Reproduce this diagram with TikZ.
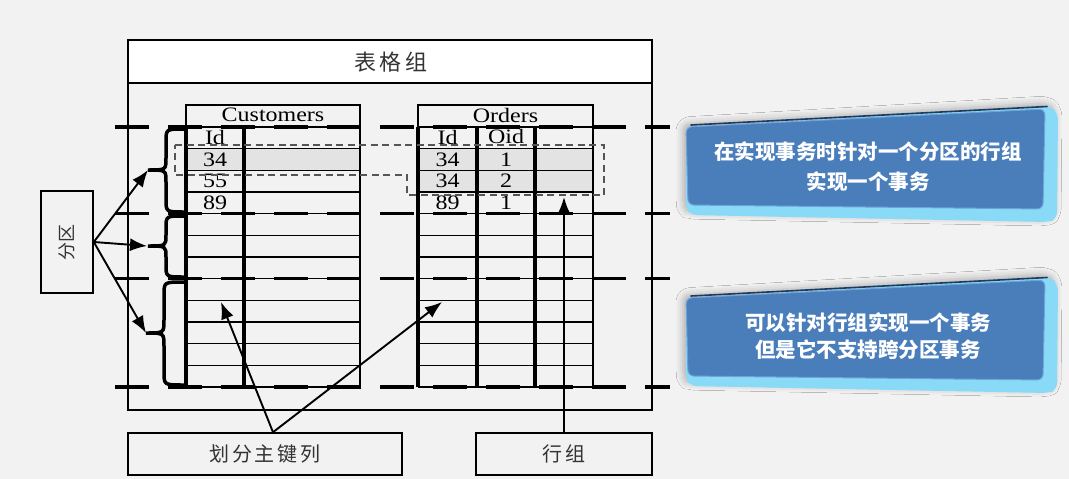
\documentclass[tikz,border=0pt]{standalone}
\usepackage{fontspec}
\setmainfont{Liberation Serif}
\newfontfamily\cjk{Noto Sans CJK SC}
\newfontfamily\cjksp{Noto Sans CJK SC}[LetterSpace=14]
\newfontfamily\tabfont{Liberation Serif}[FakeStretch=1.17]
\usetikzlibrary{arrows.meta,shadows.blur}
\definecolor{bg}{HTML}{F2F2F2}
\definecolor{rowgray}{HTML}{E3E3E3}
\definecolor{txtgray}{HTML}{333333}
\definecolor{dashgray}{HTML}{555555}
\definecolor{faceblue}{HTML}{4A7EBB}
\definecolor{faceline}{HTML}{6FA3D8}
\definecolor{edgecyan}{HTML}{88DAF7}
\definecolor{edgedark}{HTML}{1E3A5F}
\begin{document}
\begin{tikzpicture}[x=1pt,y=-1pt,
  thinl/.style={line width=1.2pt, black},
  thickcol/.style={line width=4pt, black},
  pdash/.style={line width=3.5pt, black, dash pattern=on 34pt off 19pt},
  gdash/.style={line width=1.3pt, draw=dashgray, dash pattern=on 7pt off 4.5pt},
  arr/.style={-{Latex[length=17pt,width=13pt]}, line width=1.9pt},
  lbox/.style={draw, line width=1.6pt, fill=bg, inner sep=0pt, text=txtgray},
  cell/.style={font=\tabfont\fontsize{20.5}{20.5}\selectfont, inner sep=0pt},
  brc/.style={line width=3.5pt, line cap=round},
  btext/.style={font=\cjk\bfseries\fontsize{20.5}{30}\selectfont, text=white, align=center}
]
\useasboundingbox (0,0) rectangle (1069,479);
\fill[bg] (0,0) rectangle (1069,479);

% outer table-group box
\fill[white] (128,40) rectangle (652,83);
\draw[thinl] (128,40) rectangle (652,410);
\draw[thinl] (128,83) -- (652,83);
\node[font=\cjksp\fontsize{22}{22}\selectfont, text=txtgray] (title) at (391,62) {表格组};

% gray highlighted rows
\fill[rowgray] (186,{127+260/12}) rectangle (360,{127+2*260/12});
\fill[rowgray] (418,{127+260/12}) rectangle (593,{127+3*260/12});

% Customers table
\draw[thinl] (186,105) rectangle (360,127);
\draw[thinl] (360,127) -- (360,387);
\foreach \k in {1,...,12} {
  \draw[thinl] (186,{127+\k*260/12}) -- (360,{127+\k*260/12});
  \draw[thinl] (418,{127+\k*260/12}) -- (593,{127+\k*260/12});
}
\draw[thickcol] (186,127) -- (186,387);
\draw[thickcol] (244,127) -- (244,387);
\node[cell] (cust) at (273,115) {Customers};

% Orders table
\draw[thinl] (418,105) rectangle (593,127);
\draw[thinl] (593,127) -- (593,387);
\draw[thickcol] (418,127) -- (418,387);
\draw[thickcol] (477,127) -- (477,387);
\draw[thickcol] (535,127) -- (535,387);
\node[cell] (ord) at (505.5,115) {Orders};

% cell texts
\node[cell] (cid) at (215,137) {Id};
\node[cell] (c1) at (215,159.5) {34};
\node[cell] (c2) at (215,181.2) {55};
\node[cell] (c3) at (215,202.8) {89};
\node[cell] (oid) at (447.5,137) {Id};
\node[cell] (ooid) at (506,136) {Oid};
\node[cell] (o1) at (447.5,159.5) {34};
\node[cell] (o1b) at (506,159.5) {1};
\node[cell] (o2) at (447.5,181.2) {34};
\node[cell] (o2b) at (506,181.2) {2};
\node[cell] (o3) at (447.5,202.8) {89};
\node[cell] (o3b) at (506,202.8) {1};

% dashed row-group outline
\draw[gdash] (175,145) -- (604,145) -- (604,195) -- (407,195) -- (407,175) -- (175,175) -- cycle;

% partition dashed lines
\foreach \yy in {127, 213.67, 278.67, 387} {
  \draw[pdash] (115,\yy) -- (670,\yy);
}

% braces
\draw[brc] (184,129) .. controls (166,129) .. (166,142) -- (166,158) .. controls (166,170) .. (148,170)
  .. controls (166,170) .. (166,182) -- (166,199) .. controls (166,212) .. (184,212);
\draw[brc] (184,216) .. controls (166,216) .. (166,228) -- (166,235) .. controls (166,246) .. (148,246)
  .. controls (166,246) .. (166,257) -- (166,265) .. controls (166,277) .. (184,277);
\draw[brc] (184,282) .. controls (164,282) .. (164,295) -- (164,320) .. controls (164,333) .. (146,333)
  .. controls (164,333) .. (164,346) -- (164,372) .. controls (164,385) .. (184,385);
\coordinate (b1) at (148,170);
\coordinate (b2) at (147,246);
\coordinate (b3) at (146,333);

% partition box and arrows
\node[lbox, minimum width=102pt, minimum height=52pt, rotate=90,
      font=\cjk\fontsize{18}{18}\selectfont] (fq) at (67,242) {分区};
\draw[arr] (fq.south) -- (b1);
\draw[arr] (fq.south) -- (b2);
\draw[arr] (fq.south) -- (b3);

% bottom label boxes
\node[lbox, minimum width=274pt, minimum height=42pt,
      font=\cjksp\fontsize{20}{20}\selectfont] (pk) at (265,454) {划分主键列};
\node[lbox, minimum width=176pt, minimum height=42pt,
      font=\cjksp\fontsize{20}{20}\selectfont] (rg) at (564,454) {行组};
\coordinate (ta) at (221,302);
\coordinate (tb) at (442,302);
\coordinate (tc) at (564,197);
\draw[arr] ([xshift=8pt]pk.north) -- (ta);
\draw[arr] ([xshift=8pt]pk.north) -- (tb);
\draw[arr] (rg.north) -- (tc);

% blue callout boxes
\foreach \dy in {0,171} {
  \begin{scope}[shift={(0,\dy)}]
    \fill[edgecyan, rounded corners=7pt,
      blur shadow={shadow xshift=-3pt, shadow yshift=3pt, shadow blur radius=7pt, shadow opacity=28}]
      (686,127) -- (1050,106) -- (1058,113) -- (1057,219) -- (1048,222) -- (690,215) -- (686,208) -- cycle;
    \fill[faceblue, draw=faceline, line width=1pt, rounded corners=6pt]
      (686,127) -- (1045,109) -- (1043,209) -- (688,205) -- cycle;
    \draw[edgedark, line width=1.6pt, line cap=round] (691,125) -- (1047,106.5);
  \end{scope}
}
\node[btext] (note1) at (868,167) {在实现事务时针对一个分区的行组\\实现一个事务};
\node[btext, font=\cjk\bfseries\fontsize{20.5}{27}\selectfont] (note2) at (868,336.5) {可以针对行组实现一个事务\\但是它不支持跨分区事务};
\end{tikzpicture}
\end{document}
